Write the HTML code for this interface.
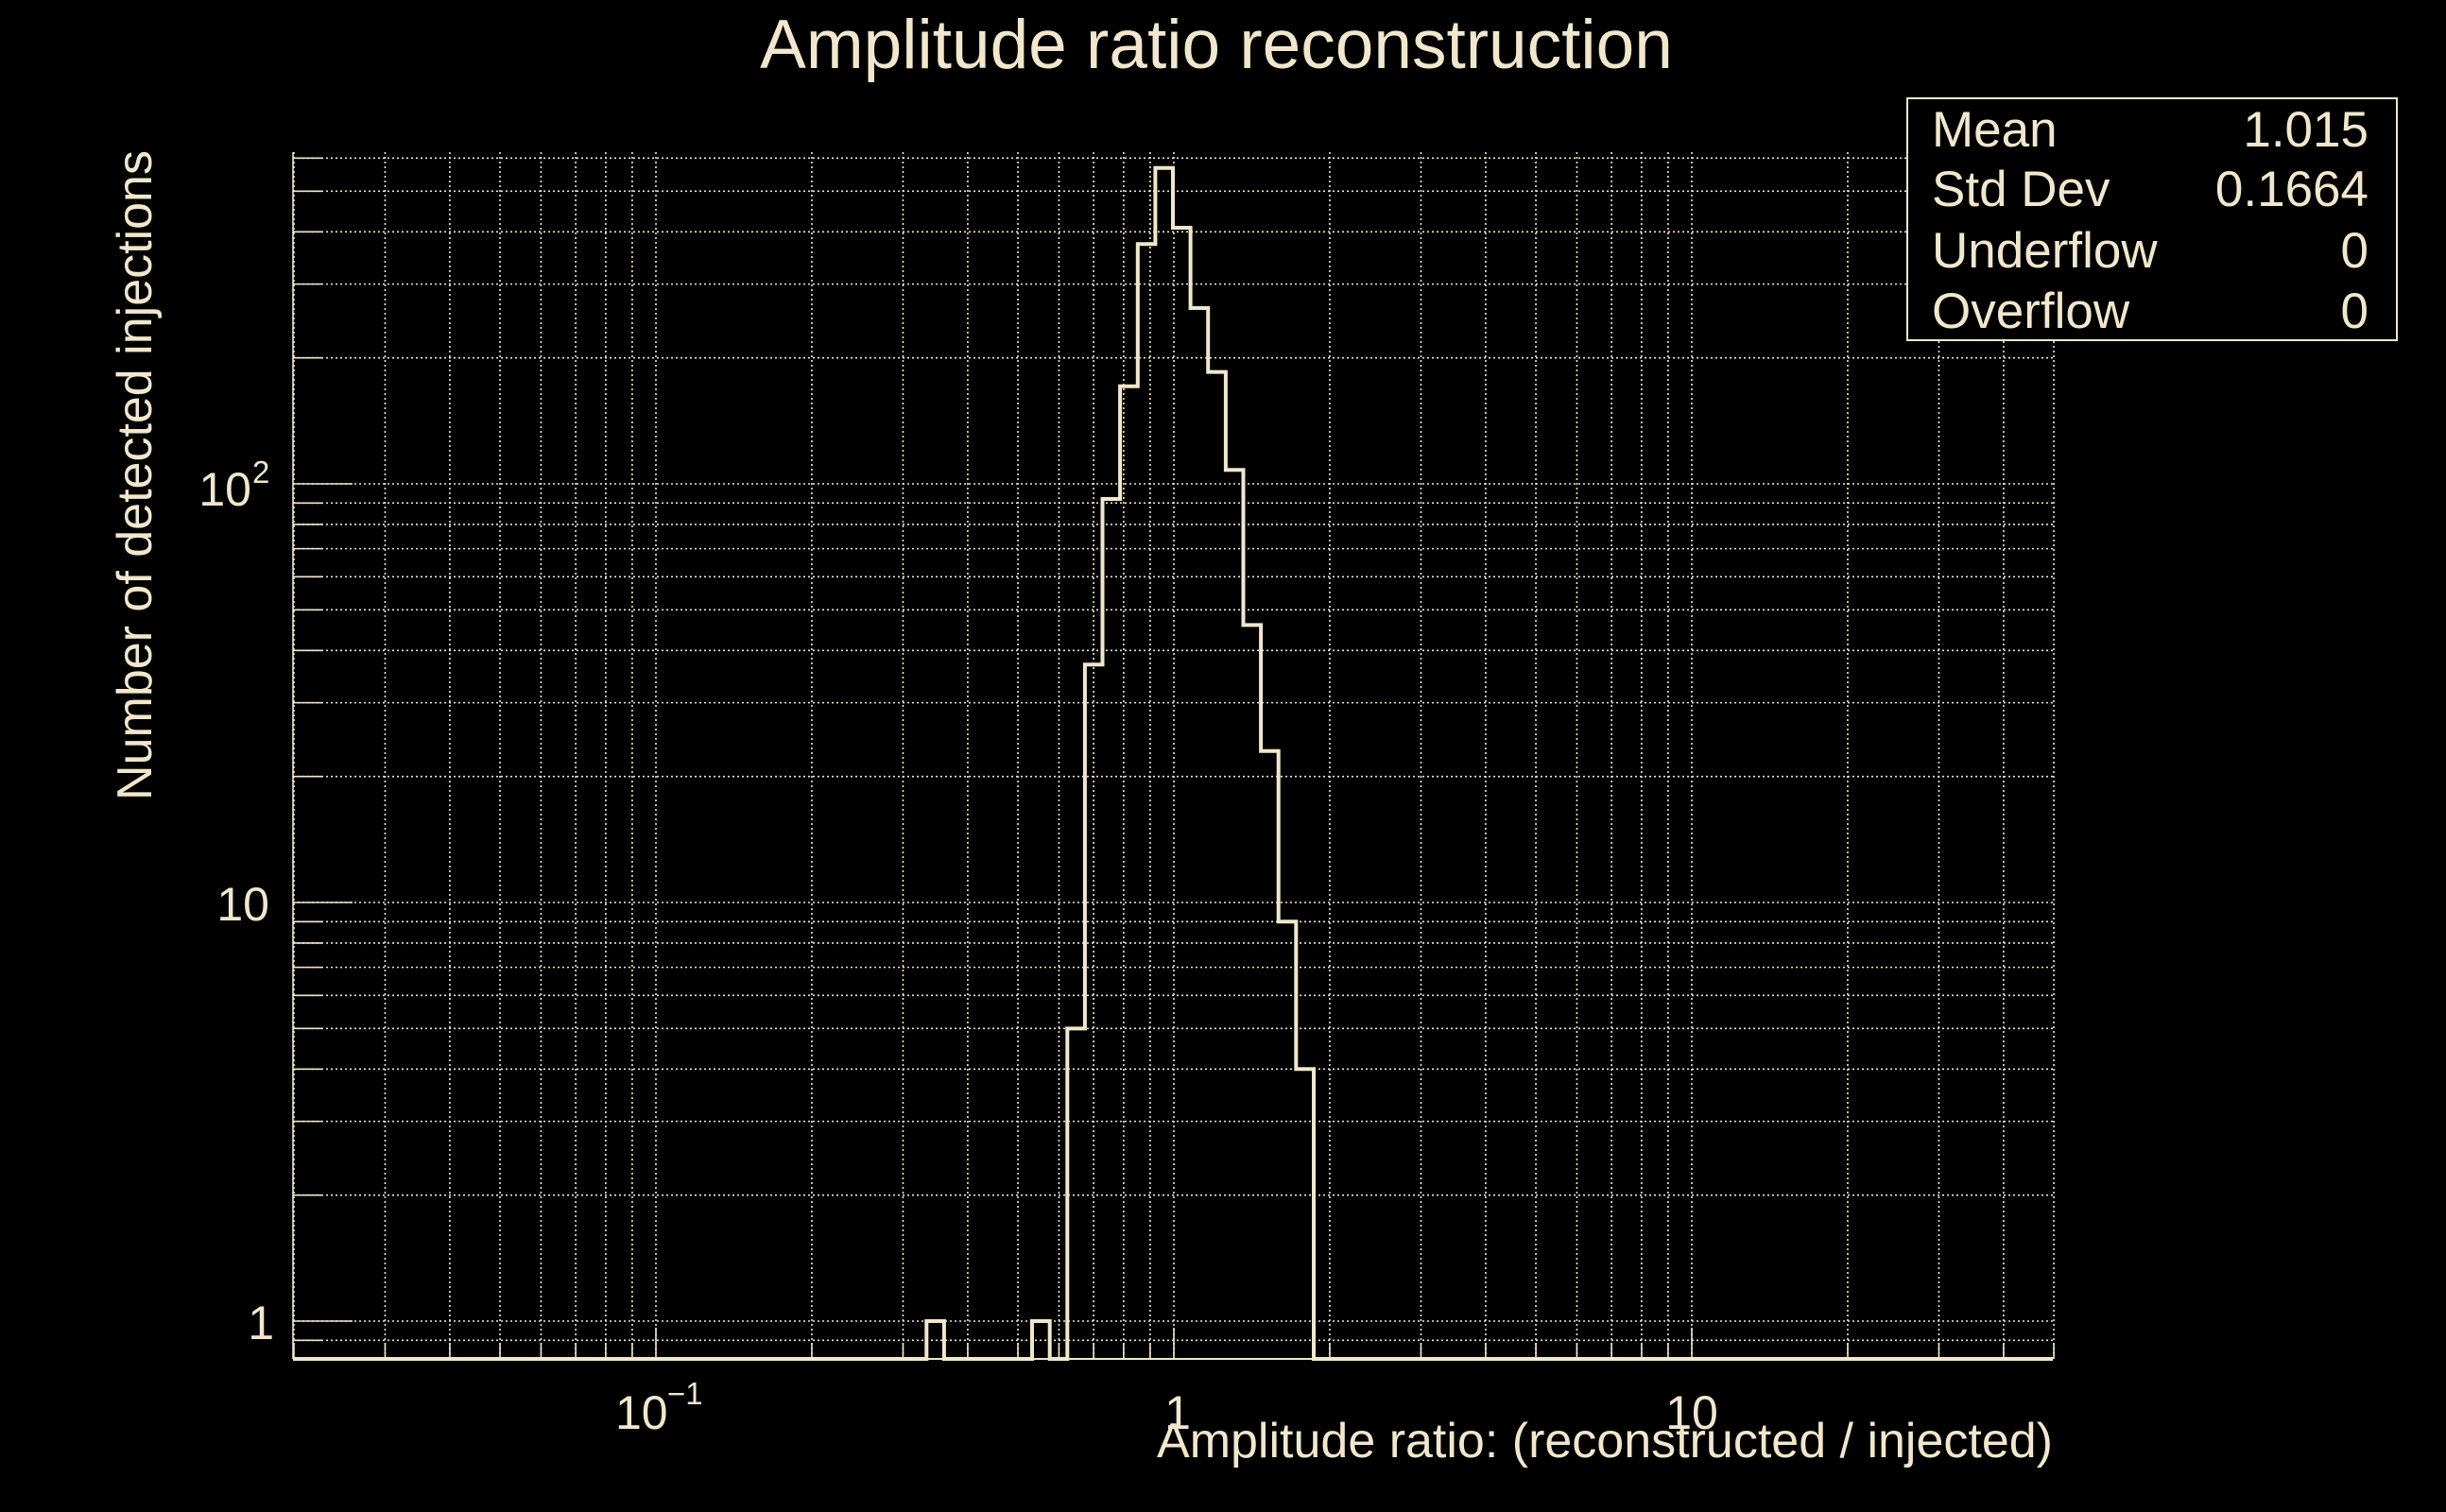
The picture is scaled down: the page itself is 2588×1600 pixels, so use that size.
<!DOCTYPE html>
<html><head><meta charset="utf-8"><style>
html,body{margin:0;padding:0;background:#000;}
svg{display:block;}
text{font-family:"Liberation Sans",sans-serif;fill:#f1e7cc;}
</style></head><body>
<svg id="s" width="2588" height="1600" viewBox="0 0 2588 1600" xmlns="http://www.w3.org/2000/svg">
<rect width="2588" height="1600" fill="#000"/>
<g id="grid" stroke="#f1e7cc" stroke-width="1.6" stroke-dasharray="2,3" fill="none"></g>
<g id="ticks" stroke="#f1e7cc" stroke-width="1.6" fill="none"></g>
<line x1="310" y1="161" x2="310" y2="1438" stroke="#f1e7cc" stroke-width="1.6"/>
<line x1="310" y1="1438" x2="2172" y2="1438" stroke="#f1e7cc" stroke-width="2"/>
<path id="hist" fill="none" stroke="#f1e7cc" stroke-width="4" stroke-linejoin="miter"/>
<text x="1287" y="72" font-size="73" text-anchor="middle">Amplitude ratio reconstruction</text>
<text transform="translate(160,503) rotate(-90)" font-size="52" text-anchor="middle">Number of detected injections</text>
<text x="2172" y="1542" font-size="52" text-anchor="end">Amplitude ratio: (reconstructed / injected)</text>
<text x="290" y="1417" font-size="50" text-anchor="end">1</text>
<text x="285" y="974" font-size="50" text-anchor="end">10</text>
<text x="266" y="535" font-size="50" text-anchor="end">10</text>
<text x="267" y="511" font-size="33">2</text>
<text x="651" y="1512" font-size="50">10</text>
<text x="706" y="1486" font-size="33">−1</text>
<text x="1246" y="1512" font-size="50" text-anchor="middle">1</text>
<text x="1790" y="1512" font-size="50" text-anchor="middle">10</text>
<rect x="2018" y="104" width="518" height="256" fill="#000" stroke="#f1e7cc" stroke-width="2"/>
<text x="2044" y="155" font-size="53">Mean</text>
<text x="2506" y="155" font-size="53" text-anchor="end">1.015</text>
<text x="2044" y="218" font-size="53">Std Dev</text>
<text x="2506" y="218" font-size="53" text-anchor="end">0.1664</text>
<text x="2044" y="283" font-size="53">Underflow</text>
<text x="2506" y="283" font-size="53" text-anchor="end">0</text>
<text x="2044" y="347" font-size="53">Overflow</text>
<text x="2506" y="347" font-size="53" text-anchor="end">0</text>
</svg>
<script>
(function(){
var NS="http://www.w3.org/2000/svg";
function X(v){return 1242+548*Math.log10(v);}
function Y(v){return 1398-443*Math.log10(v);}
var grid=document.getElementById('grid'),ticks=document.getElementById('ticks');
function line(g,x1,y1,x2,y2){var l=document.createElementNS(NS,'line');l.setAttribute('x1',x1);l.setAttribute('y1',y1);l.setAttribute('x2',x2);l.setAttribute('y2',y2);g.appendChild(l);}
var xs=[];
[0.01,0.1,1,10].forEach(function(d){for(var k=1;k<=9;k++){var v=d*k;if(v>=0.0199&&v<=50.01)xs.push(v);}});
xs.forEach(function(v){var x=X(v);line(grid,x,161,x,1438);
 var maj=(Math.abs(Math.log10(v)-Math.round(Math.log10(v)))<1e-6);
 line(ticks,x,1438,x,1438-(maj?33:17));});
var ys=[0.9];
[1,10,100].forEach(function(d){for(var k=1;k<=9;k++){var v=d*k;if(v<=600)ys.push(v);}});
ys.forEach(function(v){var y=Y(v);line(grid,310,y,2172,y);
 var maj=(Math.abs(Math.log10(v)-Math.round(Math.log10(v)))<1e-6);
 line(ticks,310,y,310+(maj?63:31),y);});
var vals={36:1,42:1,44:5,45:37,46:92,47:171,48:374,49:568,50:409,51:263,52:185,53:108,54:46,55:23,56:9,57:4};
var w=1862/100,d="M310,1438",prev=1438;
for(var i=0;i<100;i++){var x0=310+i*w;var v=vals[i];var y=v?Y(v):1438;
 if(y!==prev){d+=" L"+x0.toFixed(1)+","+prev.toFixed(1)+" L"+x0.toFixed(1)+","+y.toFixed(1);}
 prev=y;}
d+=" L2172,"+prev.toFixed(1);
document.getElementById('hist').setAttribute('d',d);
})();
</script>
</body></html>
